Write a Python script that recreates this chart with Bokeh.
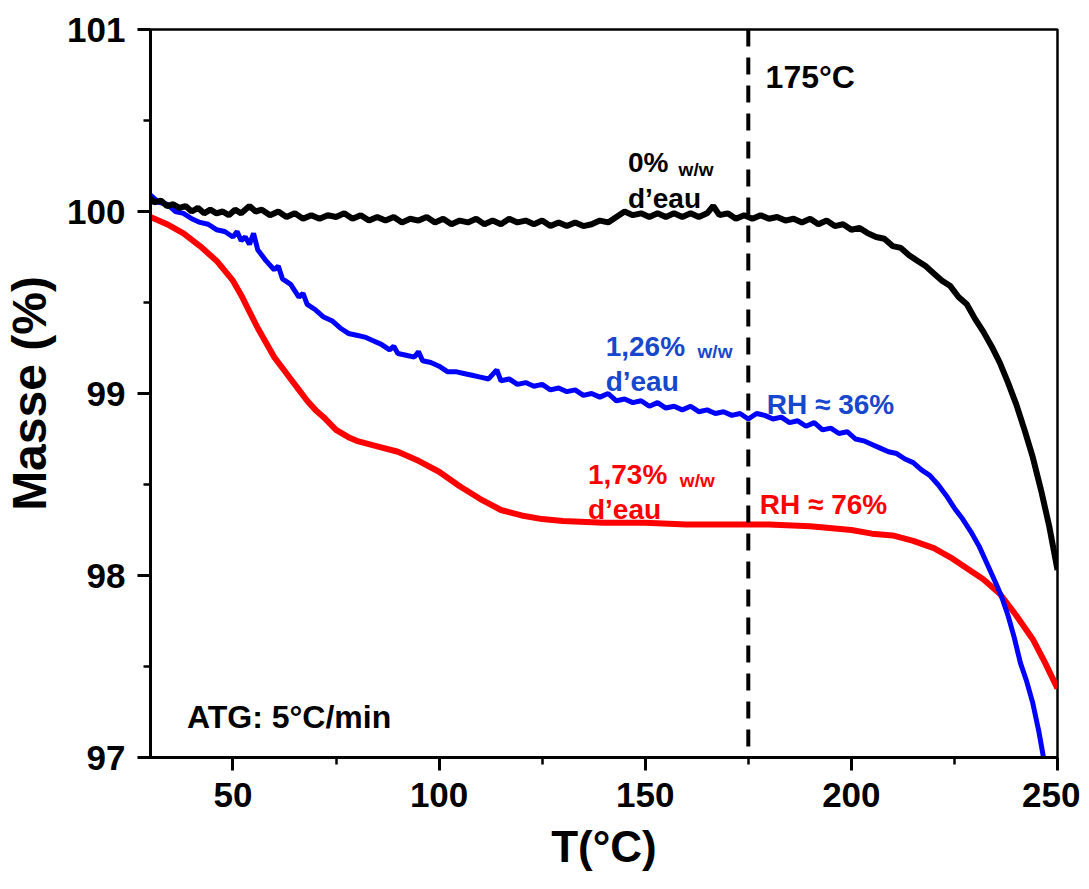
from bokeh.plotting import figure
from bokeh.models import FixedTicker, Span, Label, Range1d
from bokeh.embed import file_html
from bokeh.resources import INLINE

# ---- data ----
t_black = [30, 31, 32.5, 34, 35.5, 37, 38.5, 40, 41.5, 43, 44.5, 46, 47.5, 49, 50.5, 52, 54, 55.5, 57, 59,
           61, 63, 65, 67, 69, 71, 73, 75, 77, 79, 81, 83, 85, 87, 89, 91, 93, 95, 97, 99, 101, 103, 105,
           107, 109, 111, 113, 115, 117, 119, 121, 123, 125, 127, 129, 131, 133, 135, 137, 139, 141, 143,
           145, 147, 149, 151, 153, 155, 157, 159, 161, 163, 165, 166.5, 168, 170, 172, 174, 176, 178, 180,
           182, 184, 186, 188, 190, 192, 194, 196, 198, 200, 202, 204, 206, 208, 210, 212, 214, 216, 218,
           220, 222, 224, 226, 228, 230, 232, 234, 236, 238, 240, 242, 244, 246, 248, 250]
m_black = [100.07, 100.05, 100.06, 100.03, 100.04, 100.02, 100.03, 100.00, 100.02, 99.99, 100.01, 99.99,
           100.00, 99.98, 100.01, 99.99, 100.03, 100.00, 100.01, 99.98, 100.00, 99.97, 99.99, 99.96, 99.98,
           99.96, 99.98, 99.97, 99.99, 99.96, 99.98, 99.95, 99.97, 99.95, 99.97, 99.94, 99.96, 99.95, 99.97,
           99.94, 99.96, 99.93, 99.95, 99.94, 99.96, 99.93, 99.95, 99.93, 99.96, 99.94, 99.95, 99.93, 99.95,
           99.92, 99.94, 99.92, 99.94, 99.92, 99.93, 99.95, 99.94, 99.97, 100.00, 99.98, 99.99, 99.97, 99.99,
           99.97, 99.99, 99.97, 99.99, 99.97, 99.99, 100.03, 99.98, 99.99, 99.96, 99.98, 99.96, 99.98, 99.96,
           99.97, 99.95, 99.96, 99.94, 99.96, 99.93, 99.95, 99.92, 99.93, 99.90, 99.91, 99.88, 99.86, 99.85,
           99.81, 99.80, 99.76, 99.73, 99.70, 99.66, 99.62, 99.59, 99.53, 99.49, 99.41, 99.34, 99.26, 99.17,
           99.06, 98.94, 98.80, 98.65, 98.47, 98.27, 98.03]

t_blue = [30, 32, 34, 36, 38, 40, 42, 44, 46, 48, 50, 51, 52, 53, 54, 55, 56, 58, 60, 61, 62, 64, 66, 67,
          68, 70, 72, 74, 76, 78, 80, 82, 84, 86, 88, 89, 90, 92, 94, 95, 96, 98, 100, 102, 104, 106, 108,
          110, 112, 114, 115, 117, 119, 121, 123, 125, 127, 129, 131, 133, 135, 137, 139, 141, 143, 145,
          147, 149, 151, 153, 155, 157, 159, 161, 163, 165, 167, 169, 171, 173, 175, 177, 179, 181, 183,
          185, 187, 189, 191, 193, 195, 197, 199, 201, 203, 205, 207, 209, 211, 213, 215, 217, 219, 221,
          223, 225, 227, 229, 231, 233, 235, 236.5, 238, 239.5, 241, 242.5, 244, 245.5, 246.6]
m_blue = [100.09, 100.05, 100.04, 100.00, 99.99, 99.96, 99.94, 99.93, 99.90, 99.89, 99.86, 99.89, 99.84,
          99.86, 99.82, 99.88, 99.79, 99.73, 99.68, 99.70, 99.63, 99.60, 99.53, 99.55, 99.49, 99.46, 99.42,
          99.40, 99.36, 99.33, 99.32, 99.31, 99.29, 99.27, 99.24, 99.26, 99.22, 99.21, 99.20, 99.23, 99.18,
          99.17, 99.15, 99.12, 99.12, 99.11, 99.10, 99.09, 99.08, 99.13, 99.07, 99.08, 99.05, 99.06, 99.04,
          99.05, 99.02, 99.03, 99.01, 99.02, 98.99, 99.00, 98.98, 99.00, 98.96, 98.97, 98.95, 98.96, 98.93,
          98.95, 98.92, 98.93, 98.91, 98.93, 98.90, 98.91, 98.89, 98.90, 98.88, 98.89, 98.86, 98.89, 98.88,
          98.86, 98.87, 98.84, 98.85, 98.82, 98.84, 98.80, 98.81, 98.78, 98.79, 98.75, 98.74, 98.72, 98.70,
          98.68, 98.67, 98.64, 98.62, 98.58, 98.55, 98.50, 98.44, 98.37, 98.31, 98.24, 98.16, 98.06, 97.96,
          97.88, 97.78, 97.66, 97.52, 97.42, 97.30, 97.14, 97.00]

t_red = [30, 34, 38, 42, 46, 50, 52, 54, 56, 58, 60, 62, 64, 66, 68, 70, 72, 75, 78, 80, 85, 90, 95, 100,
         105, 110, 115, 120, 125, 130, 140, 150, 160, 170, 175, 180, 190, 200, 205, 210, 215, 220, 224,
         228, 232, 236, 240, 244, 247, 250]
m_red = [99.97, 99.93, 99.88, 99.81, 99.73, 99.62, 99.54, 99.45, 99.36, 99.28, 99.20, 99.14, 99.08, 99.02,
         98.96, 98.91, 98.87, 98.80, 98.76, 98.74, 98.71, 98.68, 98.63, 98.57, 98.49, 98.42, 98.36, 98.33,
         98.31, 98.30, 98.29, 98.29, 98.28, 98.28, 98.28, 98.28, 98.27, 98.25, 98.23, 98.22, 98.19, 98.15,
         98.10, 98.04, 97.98, 97.90, 97.78, 97.65, 97.52, 97.38]

x_ticks = [50, 100, 150, 200, 250]
x_minor = [75, 125, 175, 225]
y_ticks = [97, 98, 99, 100, 101]
y_minor = [97.5, 98.5, 99.5, 100.5]
t_marker = 175

FONT = "Liberation Sans"

p = figure(width=1080, height=873, output_backend="svg", toolbar_location=None,
           x_range=Range1d(30, 250), y_range=Range1d(97, 101),
           min_border_left=150, min_border_right=23, min_border_top=29, min_border_bottom=115)
p.background_fill_color = "white"
p.border_fill_color = "white"
p.grid.visible = False
p.outline_line_color = "black"
p.outline_line_width = 2.5

for ax in (p.xaxis[0], p.yaxis[0]):
    ax.axis_line_width = 3
    ax.major_tick_line_width = 3
    ax.minor_tick_line_width = 2.5
    ax.major_tick_out = 13
    ax.major_tick_in = 0
    ax.minor_tick_out = 7
    ax.minor_tick_in = 0
    ax.major_label_text_font = FONT
    ax.major_label_text_font_style = "bold"
    ax.major_label_text_font_size = "35px"
    ax.major_label_text_color = "black"
    ax.axis_label_text_font = FONT
    ax.axis_label_text_font_style = "bold"
    ax.axis_label_text_color = "black"

p.xaxis.axis_label_text_font_size = "44px"
p.yaxis.axis_label_text_font_size = "48px"
p.xaxis.ticker = FixedTicker(ticks=x_ticks, minor_ticks=x_minor)
p.yaxis.ticker = FixedTicker(ticks=y_ticks, minor_ticks=y_minor)
p.xaxis.axis_label = "T(°C)"
p.yaxis.axis_label = "Masse (%)"
p.xaxis.major_label_standoff = 12
p.xaxis.axis_label_standoff = 12
p.yaxis.major_label_standoff = 12
p.yaxis.axis_label_standoff = 8

p.line(t_red, m_red, line_color="#FF0000", line_width=6)
p.line(t_blue, m_blue, line_color="#0000FF", line_width=5)
p.line(t_black, m_black, line_color="black", line_width=6)

p.add_layout(Span(location=t_marker, dimension="height", line_color="black",
                  line_width=4, line_dash="17 11"))

def lab(x, y, text, size, color):
    p.add_layout(Label(x=x, y=y, text=text, text_font=FONT, text_font_style="bold",
                       text_font_size=size, text_color=color, text_baseline="alphabetic",
                       text_align="left"))

BLUE_T = "#1747CC"
RED_T = "#FF0000"
lab(179.2, 100.739, "175°C", "32px", "black")
lab(38.85, 97.22, "ATG: 5°C/min", "32px", "black")
lab(145.8, 100.267, "0%", "28px", "black")
lab(158.1, 100.229, "w/w", "19px", "black")
lab(145.8, 100.07, "d’eau", "28px", "black")
lab(140.4, 99.257, "1,26%", "28px", BLUE_T)
lab(162.7, 99.23, "w/w", "19px", BLUE_T)
lab(140.4, 99.065, "d’eau", "28px", BLUE_T)
lab(179.5, 98.94, "RH ≈ 36%", "28px", BLUE_T)
lab(136.1, 98.555, "1,73%", "28px", RED_T)
lab(158.4, 98.52, "w/w", "19px", RED_T)
lab(136.1, 98.36, "d’eau", "28px", RED_T)
lab(177.8, 98.39, "RH ≈ 76%", "28px", RED_T)

open("out.html", "w").write(file_html(p, INLINE))
